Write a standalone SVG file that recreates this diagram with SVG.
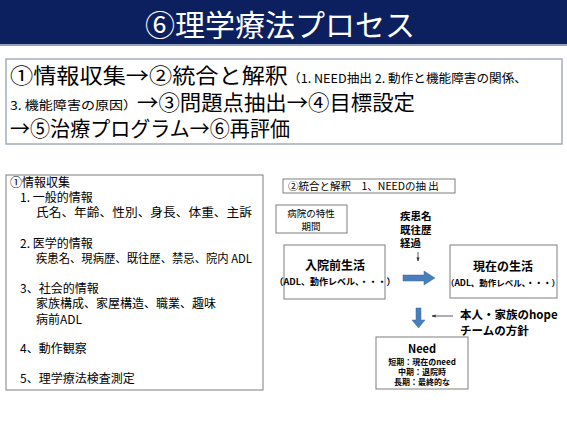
<svg xmlns="http://www.w3.org/2000/svg" width="567" height="425" viewBox="0 0 567 425">
<style>
text{font-family:"Noto Sans CJK JP","Noto Sans",sans-serif;fill:#000}
.box{fill:#fff;stroke:#7f7f7f;stroke-width:1}
.big{font-size:21px}
.sm{font-size:12px}
.l{font-size:12px}
.r{font-size:9.5px}
.b{font-weight:bold}
.mid{text-anchor:middle}
</style>
<defs>
<marker id="thin" viewBox="0 0 10 10" refX="9" refY="5" markerWidth="5" markerHeight="5" orient="auto"><path d="M0,1 L10,5 L0,9 Z" fill="#333"/></marker>
</defs>
<rect width="567" height="425" fill="#fff"/>
<g id="title">
<rect x="0" y="0" width="567" height="44" fill="#0c1f5e"/>
<rect x="0" y="44" width="567" height="2" fill="#8fa0c0"/>
<text x="280" y="36" class="mid" style="font-size:30px;fill:#fff">⑥理学療法プロセス</text>
</g>
<g id="process">
<rect x="6" y="59" width="556" height="85" fill="#fff" stroke="#a3adbd" stroke-width="1.5"/>
<text x="10" y="83" class="big" textLength="278" lengthAdjust="spacingAndGlyphs">①情報収集→②統合と解釈</text>
<text x="288" y="83" class="sm" textLength="239" lengthAdjust="spacingAndGlyphs">（1. NEED抽出  2. 動作と機能障害の関係、</text>
<text x="10" y="110" class="sm" textLength="127" lengthAdjust="spacingAndGlyphs">3. 機能障害の原因）</text>
<text x="137" y="110" class="big" textLength="278" lengthAdjust="spacingAndGlyphs">→③問題点抽出→④目標設定</text>
<text x="10" y="136" class="big" textLength="280" lengthAdjust="spacingAndGlyphs">→⑤治療プログラム→⑥再評価</text>
</g>
<g id="info">
<rect x="6" y="175" width="257" height="215" class="box"/>
<text x="10" y="187" class="l">①情報収集</text>
<text x="20" y="202" class="l">1. 一般的情報</text>
<text x="36" y="217" class="l" textLength="216" lengthAdjust="spacingAndGlyphs">氏名、年齢、性別、身長、体重、主訴</text>
<text x="20" y="248" class="l">2. 医学的情報</text>
<text x="36" y="263" class="l" textLength="216" lengthAdjust="spacingAndGlyphs">疾患名、現病歴、既往歴、禁忌、院内 ADL</text>
<text x="20" y="293" class="l">3、社会的情報</text>
<text x="36" y="308" class="l">家族構成、家屋構造、職業、趣味</text>
<text x="36" y="324" class="l">病前ADL</text>
<text x="20" y="353" class="l">4、動作観察</text>
<text x="20" y="383" class="l">5、理学療法検査測定</text>
</g>
<g id="integ-title">
<rect x="283" y="179" width="172" height="14" class="box"/>
<text x="288" y="190" style="font-size:10.5px">②統合と解釈　1、NEEDの抽 出</text>
</g>
<g id="hospital">
<rect x="276" y="205" width="71" height="28" class="box"/>
<text x="311" y="216.5" class="r mid">病院の特性</text>
<text x="311" y="230" class="r mid">期間</text>
</g>
<g id="disease">
<text x="400" y="220" class="b" style="font-size:10.5px">疾患名</text>
<text x="400" y="233.5" class="b" style="font-size:10.5px">既往歴</text>
<text x="400" y="247" class="b" style="font-size:10.5px">経過</text>
</g>
<g id="before">
<rect x="284" y="245" width="101" height="54" class="box"/>
<text x="335" y="270" class="sm b mid">入院前生活</text>
<text x="335" y="285" class="mid" style="font-size:9px;font-weight:bold">（ADL、動作レベル、・・・）</text>
</g>
<g id="now">
<rect x="450" y="245" width="107" height="53" class="box"/>
<text x="503" y="271" class="sm b mid">現在の生活</text>
<text x="503" y="286" class="mid" style="font-size:8.5px;font-weight:bold">（ADL、動作レベル、・・・）</text>
</g>
<g id="hope">
<text x="460" y="319" class="b" style="font-size:11.5px">本人・家族のhope</text>
<text x="460" y="335" class="b" style="font-size:11.5px">チームの方針</text>
</g>
<g id="need">
<rect x="376" y="337" width="92" height="52" class="box"/>
<text x="422" y="353" class="mid" style="font-size:11px;font-weight:bold">Need</text>
<text x="422" y="365" class="mid" style="font-size:8px;font-weight:bold">短期：現在のneed</text>
<text x="422" y="375" class="mid" style="font-size:8px;font-weight:bold">中期：退院時</text>
<text x="422" y="385" class="mid" style="font-size:8px;font-weight:bold">長期：最終的な</text>
</g>
<g id="connectors">
<line x1="418" y1="252" x2="418" y2="261" stroke="#333" stroke-width="0.8" marker-end="url(#thin)"/>
<path d="M403,275 L424,275 L424,271 L435,278 L424,285 L424,281 L403,281 Z" fill="#4a7ebb" stroke="#3a6aa5" stroke-width="0.5"/>
<path d="M416,308 L421,308 L421,320 L425,320 L418.5,328 L412,320 L416,320 Z" fill="#4a7ebb" stroke="#3a6aa5" stroke-width="0.5"/>
<line x1="453" y1="316" x2="432" y2="316" stroke="#333" stroke-width="0.8" marker-end="url(#thin)"/>
</g>
</svg>
